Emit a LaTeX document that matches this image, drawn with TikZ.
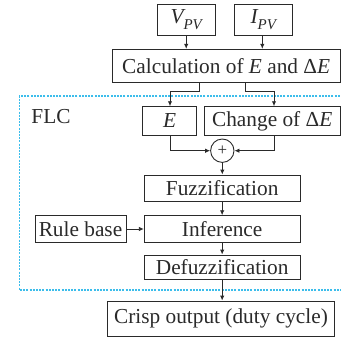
\documentclass[tikz,border=0pt]{standalone}
\usepackage{fontspec}
\setmainfont{Liberation Serif}
\usetikzlibrary{arrows.meta,calc}
\definecolor{ink}{HTML}{2A2A2A}
\definecolor{flcblue}{HTML}{3CBDEB}
\begin{document}
\begin{tikzpicture}[x=1bp,y=-1bp,
  box/.style={draw=ink,line width=0.9bp,rectangle,inner sep=0pt,anchor=center,text=ink,
    font=\fontsize{21.4}{24}\selectfont},
  arr/.style={draw=ink,line width=0.9bp,-{Latex[length=5bp,width=4.5bp]}},
  flcline/.style={draw=flcblue,line width=1.3bp,dash pattern=on 2bp off 1.2bp}]
\useasboundingbox (0,0) rectangle (341,339);
% FLC region
\draw[flcline] (343,96) -- (19.3,96) -- (19.3,290) -- (343,290);
\node[text=ink,font=\fontsize{21.4}{24}\selectfont,anchor=center] (flc) at (51,117) {FLC};
% boxes
\node[box,minimum width=57.7bp,minimum height=31bp] (vpv) at (186.2,19.5)
  {\itshape V\raisebox{-0.28em}{\fontsize{15}{15}\selectfont PV}};
\node[box,minimum width=58.3bp,minimum height=31bp] (ipv) at (263.2,19.5)
  {\itshape I\raisebox{-0.28em}{\fontsize{15}{15}\selectfont PV}};
\node[box,minimum width=227.7bp,minimum height=33bp] (calc) at (226.2,65.8)
  {Calculation of \textit{E} and Δ\textit{E}};
\node[box,minimum width=54bp,minimum height=28.3bp] (E) at (169.7,120.85) {\textit{E}};
\node[box,minimum width=136.5bp,minimum height=28.3bp] (chg) at (272.25,120.85)
  {Change of Δ\textit{E}};
\node[draw=ink,line width=0.9bp,circle,minimum size=23.4bp,inner sep=0pt,text=ink,
  font=\fontsize{17}{17}\selectfont] (sum) at (222.3,150.7) {+};
\node[box,minimum width=155.7bp,minimum height=26bp] (fuzz) at (222.15,188) {Fuzzification};
\node[box,minimum width=155.7bp,minimum height=26.6bp] (inf) at (222.15,229) {Inference};
\node[box,minimum width=91bp,minimum height=26.6bp] (rule) at (80.5,229) {Rule base};
\node[box,minimum width=155.7bp,minimum height=24bp] (defuzz) at (222.15,267) {Defuzzification};
\node[box,minimum width=226.6bp,minimum height=35bp] (crisp) at (221,318.5) {Crisp output (duty cycle)};
% helper coordinates
\coordinate (c1) at (199,0);
\coordinate (c2) at (245,0);
\coordinate (c3) at (170,0);
\coordinate (c4) at (274,0);
\coordinate (c5) at (262.3,0);
% connectors
\draw[arr] (vpv.south) -- (vpv.south |- calc.north);
\draw[arr] (ipv.south -| c5) -- (calc.north -| c5);
\draw[arr] (calc.south -| c1) -- ++(0,8.4) -| (E.north -| c3);
\draw[arr] (calc.south -| c2) -- ++(0,8.4) -| (chg.north -| c4);
\draw[arr] (E.south -| c3) |- (sum.west);
\draw[arr] (chg.south -| c4) |- (sum.east);
\draw[arr] (sum.south) -- (sum.south |- fuzz.north);
\draw[arr] (fuzz.south) -- (inf.north);
\draw[arr] (rule.east) -- (inf.west);
\draw[arr] (inf.south) -- (defuzz.north);
\draw[arr] (defuzz.south) -- (defuzz.south |- crisp.north);
\end{tikzpicture}
\end{document}
